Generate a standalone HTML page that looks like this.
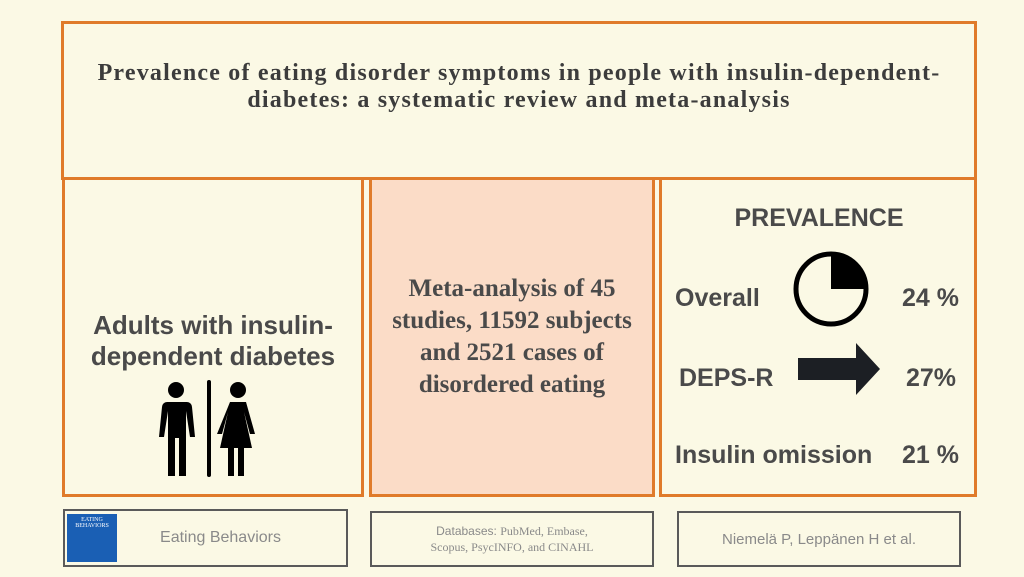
<!DOCTYPE html>
<html><head><style>
body{margin:0;width:1024px;height:577px;background:#fbf9e5;position:relative;overflow:hidden;font-family:"Liberation Sans",sans-serif}
.b{position:absolute;box-sizing:border-box;border:3px solid #e07b2a}
.g{position:absolute;box-sizing:border-box;border:2px solid #5a5a5a;color:#8a8a8a;display:flex;align-items:center;justify-content:center;text-align:center}
.t{position:absolute;color:#4a4a4a;font-weight:bold}
</style></head><body>
<div class="b" style="left:61px;top:21px;width:916px;height:159px"></div>
<div class="t" style="left:61px;top:60px;width:916px;text-align:center;font-family:'Liberation Serif',serif;font-size:24px;line-height:27px;letter-spacing:1.2px;color:#3c3c3c">Prevalence of eating disorder symptoms in people with insulin-dependent-<br>diabetes: a systematic review and meta-analysis</div>
<div class="b" style="left:62px;top:177px;width:302px;height:320px"></div>
<div class="b" style="left:369px;top:177px;width:286px;height:320px;background:#fbdcc7"></div>
<div class="b" style="left:659px;top:177px;width:318px;height:320px"></div>
<div class="t" style="left:62px;top:310px;width:302px;text-align:center;font-size:26px;line-height:31px">Adults with insulin-<br>dependent diabetes</div>
<svg style="position:absolute;left:150px;top:378px" width="120" height="100" viewBox="0 0 120 100">
<circle cx="26" cy="12" r="8"/><path d="M15 24h22a5 5 0 0 1 5 5l3 30h-5l-4-26v65h-7v-38h-4v38h-7v-65l-4 26h-5l3-30a5 5 0 0 1 5-5z"/>
<rect x="57" y="2" width="4" height="97" rx="2"/>
<circle cx="88" cy="12" r="8"/><path d="M80 24h16l9 32h-5l-6-22 8 36h-8v28h-6v-28h-4v28h-6v-28h-8l8-36-6 22h-5z"/>
</svg>
<div class="t" style="left:369px;top:273px;width:286px;text-align:center;font-family:'Liberation Serif',serif;font-size:25px;line-height:32px">Meta-analysis of 45<br>studies, 11592 subjects<br>and 2521 cases of<br>disordered eating</div>
<div class="t" style="left:660px;top:204px;width:318px;text-align:center;font-size:25px">PREVALENCE</div>
<svg style="position:absolute;left:792px;top:250px" width="80" height="80"><circle cx="39" cy="39" r="35" fill="none" stroke="#000" stroke-width="5"/><path d="M39 39V4A35 35 0 0 1 74 39z"/></svg>
<div class="t" style="left:675px;top:284px;font-size:25px">Overall</div>
<div class="t" style="left:902px;top:284px;font-size:25px">24 %</div>
<div class="t" style="left:679px;top:364px;font-size:25px">DEPS-R</div>
<svg style="position:absolute;left:796px;top:343px" width="90" height="52"><path d="M2 15h58V0l24 26-24 26V37H2z" fill="#1c1f24"/></svg>
<div class="t" style="left:906px;top:364px;font-size:25px">27%</div>
<div class="t" style="left:675px;top:441px;font-size:25px">Insulin omission</div>
<div class="t" style="left:902px;top:441px;font-size:25px">21 %</div>
<div class="g" style="left:63px;top:509px;width:285px;height:58px;font-size:16px"><span style="margin-left:30px">Eating Behaviors</span></div>
<div style="position:absolute;left:67px;top:514px;width:50px;height:48px;background:#1a5fb4;color:#fff;font-size:6px;text-align:center;font-family:'Liberation Serif',serif;padding-top:3px;box-sizing:border-box">EATING<br>BEHAVIORS</div>
<div class="g" style="left:370px;top:511px;width:284px;height:56px;font-size:12px;line-height:16px;font-family:'Liberation Serif',serif"><span><span style="font-family:'Liberation Sans',sans-serif">Databases: </span>PubMed, Embase,<br>Scopus, PsycINFO, and CINAHL</span></div>
<div class="g" style="left:677px;top:511px;width:284px;height:56px;font-size:15px">Niemelä P, Leppänen H et al.</div>
</body></html>
